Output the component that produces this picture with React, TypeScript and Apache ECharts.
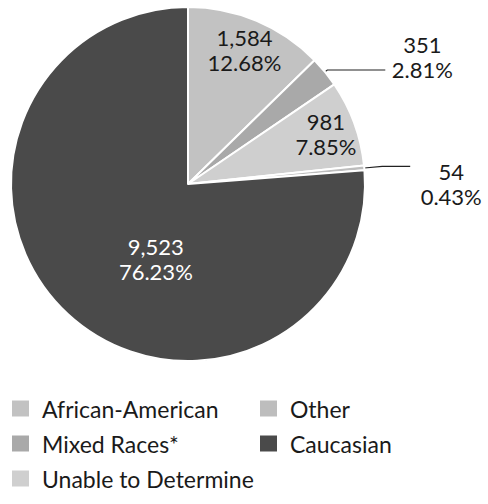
import React, { useEffect, useRef } from "react";
import * as echarts from "echarts";

const categories = ["African-American", "Mixed Races*", "Unable to Determine", "Other", "Caucasian"];
const counts = [1584, 351, 981, 54, 9523];
const sliceColors = ["#c2c2c2", "#a9a9a9", "#cfcfcf", "#bdbdbd", "#4a4a4a"];
const legendCol1 = ["African-American", "Mixed Races*", "Unable to Determine"];
const legendCol2 = ["Other", "Caucasian"];

const FONT = "Lato";

export default function App() {
  const ref = useRef<HTMLDivElement>(null);
  useEffect(() => {
    if (!ref.current) return;
    const chart = echarts.init(ref.current, undefined, { renderer: "svg" });
    const insideIdx = [0, 2, 4];
    const offsets: Record<number, [number, number]> = {
      0: [21, -50],
      2: [52, -19],
      4: [30, 8],
      1: [0, -13],
      3: [4, 18],
    };
    const fmt = (p: any) => {
      const c = Number(p.value).toLocaleString("en-US");
      const d = Number(p.percent).toFixed(2) + "%";
      return "{a|" + c + "}\n{a|" + d + "}";
    };
    const data = categories.map((name, i) => {
      const inside = insideIdx.includes(i);
      return {
        name,
        value: counts[i],
        itemStyle: { color: sliceColors[i] },
        label: {
          position: inside ? "inside" : "outside",
          color: i === 4 ? "#ffffff" : "#1a1a1a",
          rich: {
            a: {
              fontFamily: FONT,
              fontSize: 22,
              lineHeight: 25,
              width: inside ? undefined : 64,
              align: "center",
              color: i === 4 ? "#ffffff" : "#1a1a1a",
            },
          },
        },
        labelLine: inside
          ? { show: false }
          : {
              show: true,
              length: i === 1 ? 3 : 18,
              length2: i === 1 ? 58 : 28,
              lineStyle: { color: "#222222", width: 1.2 },
            },
      };
    });
    const legendBase = {
      orient: "vertical",
      top: 397,
      padding: 0,
      itemWidth: 19,
      itemHeight: 18,
      itemGap: 12,
      icon: "rect",
      selectedMode: false,
      textStyle: { fontFamily: FONT, fontSize: 23, color: "#1a1a1a", padding: [0, 0, 0, 7] },
    };
    chart.setOption({
      animation: false,
      backgroundColor: "#ffffff",
      legend: [
        { ...legendBase, data: legendCol1, left: 10 },
        { ...legendBase, data: legendCol2, left: 258 },
      ],
      series: [
        {
          type: "pie",
          center: [188, 184],
          radius: 177,
          startAngle: 90,
          clockwise: true,
          avoidLabelOverlap: false,
          percentPrecision: 2,
          itemStyle: { borderColor: "#ffffff", borderWidth: 2 },
          label: { formatter: fmt, fontFamily: FONT, fontSize: 22 },
          labelLayout: (p: any) => {
            const o = offsets[p.dataIndex] || [0, 0];
            return { dx: o[0], dy: o[1] };
          },
          emphasis: { disabled: true },
          data,
        },
      ],
    });
    return () => chart.dispose();
  }, []);
  return <div ref={ref} style={{ position: "absolute", left: 0, top: 0, width: 488, height: 504 }} />;
}
